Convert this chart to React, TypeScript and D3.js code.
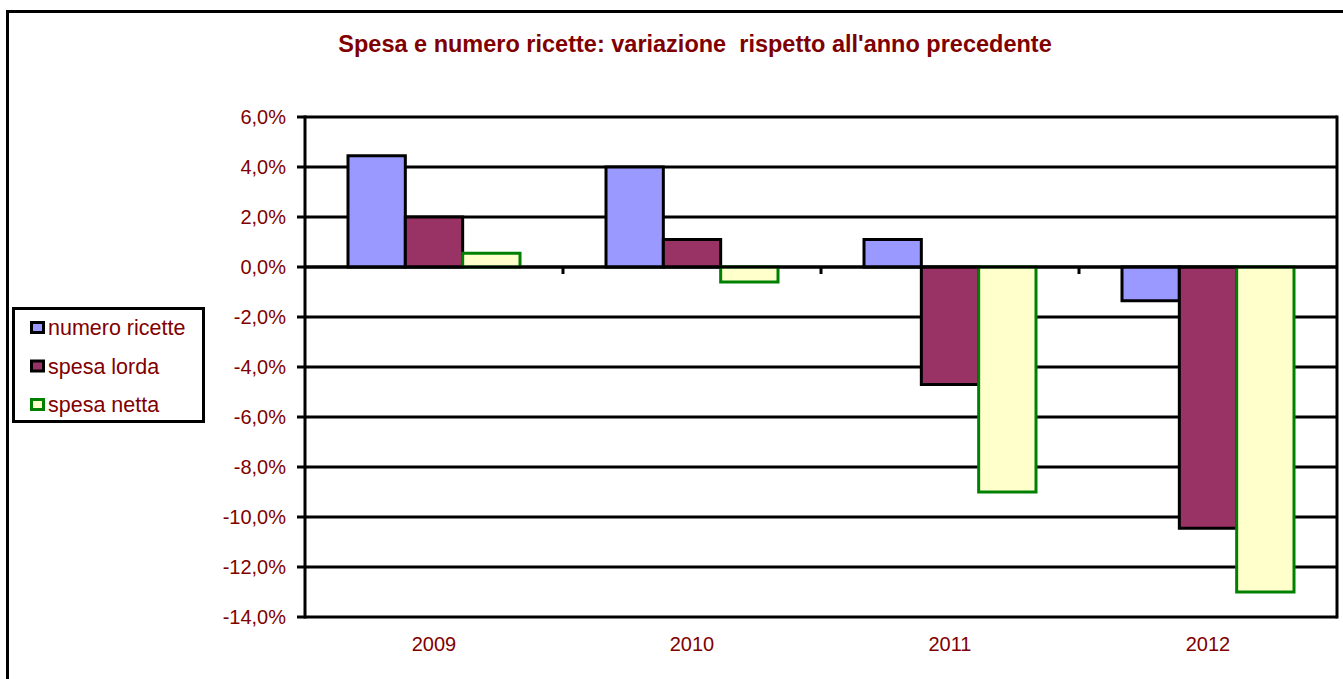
import React from "react";
import * as d3 from "d3";

const categories = ["2009", "2010", "2011", "2012"];
const seriesNames = ["numero ricette", "spesa lorda", "spesa netta"];
const numeroRicette = [4.45, 4.0, 1.1, -1.35];
const spesaLorda = [2.0, 1.1, -4.7, -10.45];
const spesaNetta = [0.55, -0.6, -9.0, -13.0];
const yTicks = [6, 4, 2, 0, -2, -4, -6, -8, -10, -12, -14];

const fills = ["#9999FF", "#993366", "#FFFFCC"];
const strokes = ["#000000", "#000000", "#008000"];

export default function App() {
  const W = 1343, H = 679;
  const left = 305, right = 1337, top = 117, bottom = 617;
  const series = [numeroRicette, spesaLorda, spesaNetta];
  const y = d3.scaleLinear().domain([-14, 6]).range([bottom, top]);
  const x = d3.scaleBand().domain(categories).range([left, right]).paddingInner(0).paddingOuter(0);
  const cw = x.bandwidth();
  const bw = cw / 4.5;
  const fmt = (v: number) => v.toFixed(1).replace(".", ",") + "%";
  const font = "'Liberation Sans', Arial, sans-serif";
  const red = "#800000";
  return (
    <svg width={W} height={H} style={{ position: "absolute", left: 0, top: 0, background: "#fff" }}>
      <rect x={7.5} y={11.5} width={W} height={H} fill="#fff" stroke="#000" strokeWidth={3} />
      <text x={695} y={52} textAnchor="middle" fontFamily={font} fontWeight="bold" fontSize={23.5} fill={red} style={{ whiteSpace: "pre" }}>
        {"Spesa e numero ricette: variazione  rispetto all'anno precedente"}
      </text>
      {yTicks.map((t) => (
        <g key={t}>
          <line x1={left - 8} x2={right} y1={y(t)} y2={y(t)} stroke="#000" strokeWidth={3} />
          <text x={286} y={y(t) + 7} textAnchor="end" fontFamily={font} fontSize={20} fill={red}>
            {fmt(t)}
          </text>
        </g>
      ))}
      <line x1={left} x2={left} y1={top - 1.5} y2={bottom + 1.5} stroke="#000" strokeWidth={3} />
      <line x1={right} x2={right} y1={top - 1.5} y2={bottom + 1.5} stroke="#000" strokeWidth={3} />
      {categories.map((c, i) => (
        <g key={c}>
          {i > 0 && <line x1={x(c)!} x2={x(c)!} y1={y(0)} y2={y(0) + 7} stroke="#000" strokeWidth={3} />}
          <text x={x(c)! + cw / 2} y={651} textAnchor="middle" fontFamily={font} fontSize={20} fill={red}>
            {c}
          </text>
        </g>
      ))}
      {series.map((vals, si) =>
        vals.map((v, ci) => {
          const x0 = x(categories[ci])! + bw * 0.75 + si * bw;
          const y0 = Math.min(y(v), y(0));
          const h = Math.abs(y(v) - y(0));
          return (
            <rect key={si + "-" + ci} x={x0} y={y0} width={bw} height={h} fill={fills[si]} stroke={strokes[si]} strokeWidth={3} />
          );
        })
      )}
      <line x1={left} x2={right} y1={y(0)} y2={y(0)} stroke="#000" strokeWidth={3} />
      <rect x={13.5} y={308.5} width={190} height={113} fill="#fff" stroke="#000" strokeWidth={3} />
      {seriesNames.map((n, i) => (
        <g key={n}>
          <rect x={31.5} y={322.5 + i * 38.5} width={12} height={10} fill={fills[i]} stroke={strokes[i]} strokeWidth={3} />
          <text x={48} y={335 + i * 38.5} fontFamily={font} fontSize={21.5} fill={red}>
            {n}
          </text>
        </g>
      ))}
    </svg>
  );
}
